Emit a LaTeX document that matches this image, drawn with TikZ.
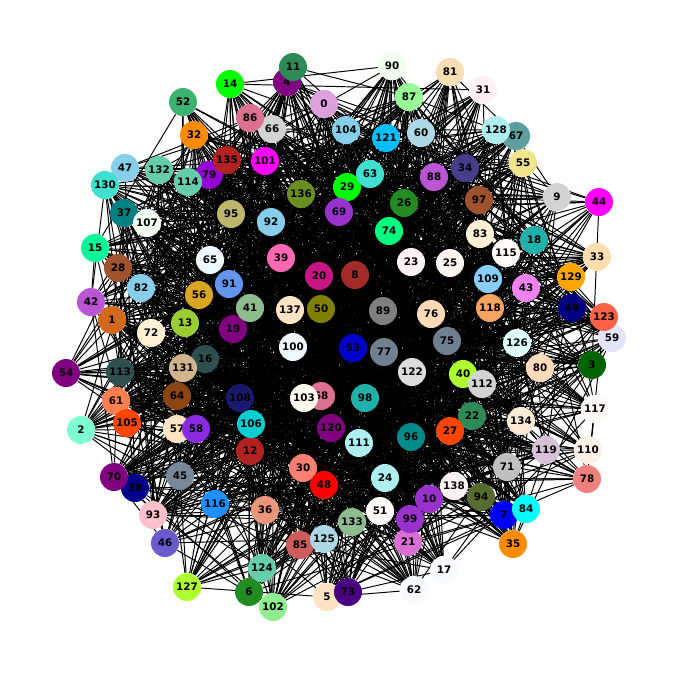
\PassOptionsToPackage{svgnames}{xcolor}
\documentclass[tikz,border=0pt]{standalone}
\usepackage{fontspec}
\setsansfont{DejaVu Sans}
\pgfdeclarelayer{background}
\pgfsetlayers{background,main}
\begin{document}
\begin{tikzpicture}[x=0.02cm,y=-0.02cm]
% size of each vertex
\def\sz{5.6mm}
% vertex style definition
\tikzstyle{vertex} = [
	circle, draw=none, inner sep=0pt, minimum size=\sz, text=black,
	font=\sffamily\bfseries\fontsize{5.9}{6}\selectfont ];
\tikzstyle{link} = [draw=black, line width=0.55pt];
\useasboundingbox (0,0) rectangle (678,674);
% vertex data: index/x/y/colour
\def\verts{0/324/104/Plum, 1/112/320/Chocolate, 2/81/430/Aquamarine,
	3/592/365/DarkGreen, 4/287/82/Purple, 5/327/597/Bisque,
	6/249/592/ForestGreen, 7/504/515/Blue, 8/355/275/Brown,
	9/557/197/LightGray, 10/429/499/DarkOrchid, 11/293/67/SeaGreen,
	12/250/451/FireBrick, 13/185/323/YellowGreen, 14/230/84/Lime,
	15/95/248/MediumSpringGreen, 16/205/359/DarkSlateGray, 17/444/570/GhostWhite,
	18/534/240/LightSeaGreen, 19/233/329/Purple, 20/319/276/MediumVioletRed,
	21/408/542/Orchid, 22/472/416/SeaGreen, 23/411/262/LavenderBlush,
	24/385/478/PaleTurquoise, 25/450/263/Seashell, 26/404/203/ForestGreen,
	27/450/431/OrangeRed, 28/118/268/Sienna, 29/347/187/Lime,
	30/303/468/Salmon, 31/483/90/LavenderBlush, 32/194/135/DarkOrange,
	33/597/257/NavajoWhite, 34/465/168/DarkSlateBlue, 35/513/544/DarkOrange,
	36/265/510/DarkSalmon, 37/124/213/Teal, 38/135/488/DarkBlue,
	39/281/258/HotPink, 40/463/374/GreenYellow, 41/250/308/DarkSeaGreen,
	42/91/302/MediumOrchid, 43/526/288/Violet, 44/599/202/Magenta,
	45/180/476/LightSlateGray, 46/165/543/SlateBlue, 47/125/168/SkyBlue,
	48/324/485/Red, 49/572/308/Navy, 50/321/309/Olive,
	51/380/511/Snow, 52/183/102/MediumSeaGreen, 53/353/348/MediumBlue,
	54/66/373/Purple, 55/523/163/Khaki, 56/199/295/Goldenrod,
	57/177/429/Bisque, 58/196/429/BlueViolet, 59/612/338/Lavender,
	60/421/133/LightBlue, 61/116/401/Coral, 62/414/590/GhostWhite,
	63/370/174/Turquoise, 64/177/396/SaddleBrown, 65/210/260/AliceBlue,
	66/272/129/LightGray, 67/516/136/CadetBlue, 68/321/396/PaleVioletRed,
	69/339/212/DarkOrchid, 70/114/477/Purple, 71/507/467/Silver,
	72/151/333/PapayaWhip, 73/348/592/Indigo, 74/389/231/SpringGreen,
	75/447/341/SlateGray, 76/431/314/PeachPuff, 77/384/352/SlateGray,
	78/587/479/LightCoral, 79/209/175/DarkViolet, 80/540/368/PeachPuff,
	81/450/72/Wheat, 82/141/288/SkyBlue, 83/480/234/PapayaWhip,
	84/526/509/Cyan, 85/300/545/IndianRed, 86/250/118/PaleVioletRed,
	87/409/97/PaleGreen, 88/434/177/MediumOrchid, 89/383/311/Gray,
	90/392/66/Honeydew, 91/229/284/CornflowerBlue, 92/271/222/SkyBlue,
	93/153/515/Pink, 94/481/497/DarkOliveGreen, 95/231/214/DarkKhaki,
	96/411/437/DarkCyan, 97/479/200/Sienna, 98/365/398/LightSeaGreen,
	99/410/519/DarkOrchid, 100/293/347/AliceBlue, 101/265/161/Magenta,
	102/273/607/LightGreen, 103/304/398/FloralWhite, 104/346/130/SkyBlue,
	105/127/423/OrangeRed, 106/251/424/DarkTurquoise, 107/147/223/Honeydew,
	108/240/398/MidnightBlue, 109/488/279/LightSkyBlue, 110/588/450/Linen,
	111/359/443/PaleTurquoise, 112/482/384/LightGray, 113/120/372/DarkSlateGray,
	114/188/182/MediumAquamarine, 115/506/253/Snow, 116/215/504/DodgerBlue,
	117/595/409/Snow, 118/490/308/SandyBrown, 119/546/450/Thistle,
	120/331/428/Purple, 121/386/138/DeepSkyBlue, 122/412/372/Gainsboro,
	123/604/317/Tomato, 124/262/568/MediumAquamarine, 125/324/539/LightBlue,
	126/517/343/LightCyan, 127/187/587/GreenYellow, 128/496/130/PaleTurquoise,
	129/571/277/Orange, 130/105/185/Turquoise, 131/183/368/Tan,
	132/159/170/MediumAquamarine, 133/352/522/DarkSeaGreen, 134/521/421/AntiqueWhite,
	135/227/160/FireBrick, 136/301/194/OliveDrab, 137/290/310/Bisque,
	138/454/486/LavenderBlush}
\foreach \n/\x/\y/\c in \verts
{
	\node[vertex, fill=\c] (v\n) at (\x,\y) { \n };
	% weight falls off away from the centre
	\pgfmathsetmacro{\w}{1-veclen(\x-339,\y-337)/450}
	\expandafter\xdef\csname w\n\endcsname{\w}
}
\pgfmathsetseed{42}
\begin{pgfonlayer}{background}
\fill[white] (0,0) rectangle (678,674);
\foreach \i in {0,...,137}
{
	\edef\wa{\csname w\i\endcsname}
	\pgfmathtruncatemacro{\nxt}{\i+1}
	\foreach \j in {\nxt,...,138}
	{
		\edef\wb{\csname w\j\endcsname}
		\pgfmathtruncatemacro{\hit}{rnd<0.7*\wa*\wb}
		\ifnum\hit=1 \draw[link] (v\i) -- (v\j); \fi
	}
}
\end{pgfonlayer}
\end{tikzpicture}
\end{document}
